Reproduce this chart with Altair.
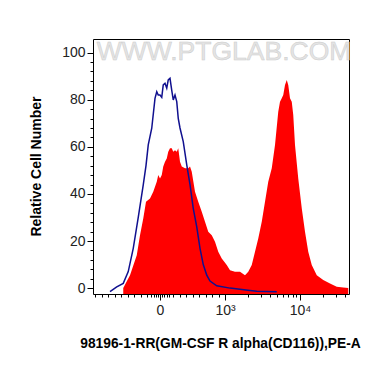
import altair as alt
import pandas as pd

# x positions are display channels (0-1024, biexponential display), y = relative cell number
blue_x = [68, 95, 121, 141, 161, 181, 201, 212, 221, 235, 248, 255, 261, 268, 275, 281, 288, 295,
          301, 308, 315, 321, 328, 335, 341, 348, 361, 375, 388, 401, 415, 428, 441, 455, 468, 495,
          548, 628, 655, 735]
blue_y = [-1.5, 0.5, 2.0, 7, 16.9, 30, 43.8, 52, 60.8, 67.9, 80.6, 83.4, 82, 82.0, 81, 86.3, 87.0, 84.9,
          88.4, 89.1, 84, 79.9, 82, 79.2, 72.1, 68, 62.2, 52.3, 44, 33.9, 26, 16.9, 10, 5.5, 3, 1.0,
          0, -1.0, -1.3, -1.5]

red_x = [121, 148, 175, 188, 201, 212, 228, 241, 255, 261, 268, 275, 281, 288, 295, 301, 308, 315,
         321, 328, 335, 341, 348, 355, 368, 381, 388, 395, 408, 421, 435, 448, 461, 475, 488, 501,
         515, 535, 548, 568, 588, 608, 621, 635, 648, 661, 675, 688, 701, 715, 728, 741, 748, 755,
         761, 768, 775, 781, 788, 795, 801, 808, 821, 835, 848, 861, 875, 895, 921, 948, 975, 1001,
         1021]
red_y = [0, 5.5, 14.0, 22.5, 29.6, 36.7, 38.1, 40.9, 45.2, 48.0, 46.6, 48.0, 51.6, 53.7, 55.1, 57.9,
         59.4, 59.4, 57.9, 58.6, 57.9, 59.4, 53.7, 51.6, 50.9, 50.9, 51.6, 49.4, 40.9, 36.7, 32.4,
         28.2, 23.9, 22.5, 19.7, 15.4, 12.6, 9.8, 7.6, 6.9, 6.9, 5.5, 6.9, 9.8, 15.4, 21.1, 28.2,
         36.7, 45.2, 50.9, 60.8, 74.9, 79.2, 80.6, 82.0, 86.3, 88.4, 86.3, 80.6, 79.2, 73.5, 60.8,
         46.6, 33.9, 23.9, 15.4, 9.8, 5.5, 3.4, 2.0, 0.6, 0.3, 0]

x_major = [268, 528, 828]
x_major_labels = ["0", "10³", "10⁴"]
x_minor = [8, 34, 60, 86, 112, 138, 164, 190, 216, 232, 242, 252, 260, 276, 284, 294, 304, 320,
           346, 372, 398, 424, 450, 476, 502, 618, 671, 708, 737, 761, 781, 798, 813, 918, 971, 1008]
y_major = [0, 20, 40, 60, 80, 100]
y_minor = [v for v in range(0, 104, 4) if v % 20 != 0]

watermark = "WWW.PTGLAB.COM"

red_df = pd.DataFrame({"x": red_x, "y": red_y})
blue_df = pd.DataFrame({"x": blue_x, "y": blue_y})

label_expr = " : ".join(
    f"datum.value == {v} ? '{l}'" for v, l in zip(x_major, x_major_labels)
) + " : ''"

xscale = alt.Scale(domain=[0, 1024], nice=False, zero=False)
yscale = alt.Scale(domain=[-2.5, 105.8], nice=False, zero=False)

font = "Liberation Sans"

red = alt.Chart(red_df).mark_area(color="#ff0000", clip=True, interpolate="linear").encode(
    x=alt.X("x:Q", scale=xscale,
            axis=alt.Axis(values=x_major, labelExpr=label_expr, tickSize=6, tickColor="black",
                          domain=False, grid=False, labelFont=font, labelFontSize=14,
                          labelColor="#222", labelPadding=3,
                          title="98196-1-RR(GM-CSF R alpha(CD116)),PE-A",
                          titleFont=font, titleFontSize=13.8, titleFontWeight="bold",
                          titleColor="black", titleX=127, titleY=42)),
    y=alt.Y("y:Q", scale=yscale,
            axis=alt.Axis(values=y_major, tickSize=6, tickColor="black", domain=False, grid=False,
                          labelFont=font, labelFontSize=14, labelColor="#222", labelPadding=2,
                          title="Relative Cell Number", titleFont=font, titleFontSize=14,
                          titleFontWeight="bold", titleColor="black", titleX=-50, titleY=127)),
    y2=alt.datum(-2.5),
)

blue = alt.Chart(blue_df).mark_line(color="#10108f", strokeWidth=1.5, clip=True).encode(
    x=alt.X("x:Q", scale=xscale,
            axis=alt.Axis(values=x_minor, orient="bottom", labels=False, tickSize=3,
                          tickColor="black", domain=False, grid=False, title=None)),
    y=alt.Y("y:Q", scale=yscale,
            axis=alt.Axis(values=y_minor, orient="left", labels=False, tickSize=3,
                          tickColor="black", domain=False, grid=False, title=None)),
)

wm = alt.Chart(pd.DataFrame({"t": [watermark]})).mark_text(
    font=font, fontSize=26.5, color="#e4e4e4", stroke="#cccccc", strokeWidth=0.5,
    baseline="alphabetic", align="center"
).encode(x=alt.datum(524, axis=None), y=alt.datum(97, axis=None), text="t:N")

chart = alt.layer(red, blue, wm).resolve_axis(x="independent", y="independent").properties(
    width=256, height=255,
    autosize=alt.AutoSizeParams(type="none"),
    padding={"left": 85, "top": 31, "right": 13, "bottom": 60},
).configure_view(stroke="black", strokeWidth=1)

chart.save("out.html", embed_options={"renderer": "svg", "actions": False})
